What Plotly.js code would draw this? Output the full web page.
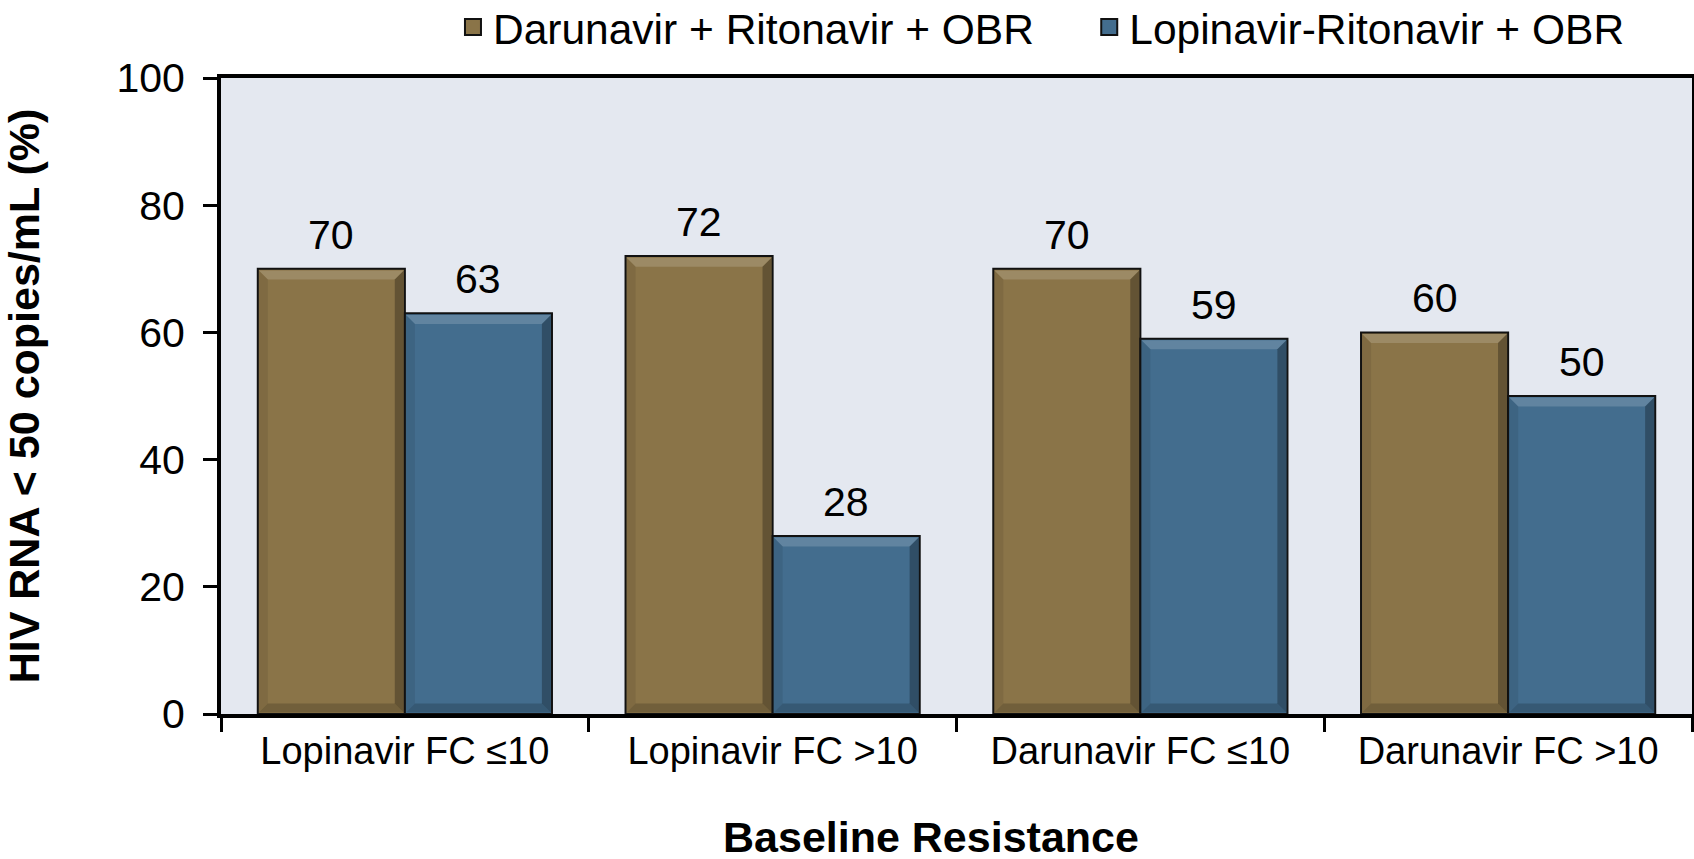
<!DOCTYPE html>
<html>
<head>
<meta charset="utf-8">
<script src="https://cdn.plot.ly/plotly-3.0.1.min.js"></script>
<style>html,body{margin:0;padding:0;background:#fff;}#chart{width:1694px;height:859px;}</style>
</head>
<body>
<div id="chart"></div>
<script>
// ---- data ----
const categories = ["Lopinavir FC \u226410", "Lopinavir FC >10", "Darunavir FC \u226410", "Darunavir FC >10"];
const seriesNames = ["Darunavir + Ritonavir + OBR", "Lopinavir-Ritonavir + OBR"];
const darunavirValues = [70, 72, 70, 60];
const lopinavirValues = [63, 28, 59, 50];
const yTickVals = [0, 20, 40, 60, 80, 100];

const colors = ["#8A7448", "#436D8E"];
const FONT = "Liberation Sans, Arial, sans-serif";
const BARGAP = 0.2;
const half = (1 - BARGAP) / 4;       // bar width in category units
const W = 1694, H = 859;
const M = { l: 221, r: 2, t: 78, b: 145 };
const plotW = W - M.l - M.r, plotH = H - M.t - M.b;
const YMAX = 100;

const seriesVals = [darunavirValues, lopinavirValues];

const traces = [];
seriesVals.forEach((vals, k) => {
  traces.push({
    type: "bar",
    name: seriesNames[k],
    x: categories,
    y: vals,
    marker: { color: colors[k], line: { color: "#111", width: 2 } },
    showlegend: false,
    hoverinfo: "skip"
  });
});
// legend-only entries (larger square symbols)
seriesVals.forEach((vals, k) => {
  traces.push({
    type: "scatter", mode: "markers",
    name: seriesNames[k],
    x: [null], y: [null],
    marker: { symbol: "square", size: 16, color: colors[k], line: { color: "#111", width: 2 } },
    legend: k === 0 ? "legend" : "legend2",
    hoverinfo: "skip"
  });
});

// value labels
const annotations = [];
seriesVals.forEach((vals, k) => {
  vals.forEach((v, i) => {
    annotations.push({
      x: i + (k === 0 ? -half : half), y: v, xref: "x", yref: "y",
      text: String(v), showarrow: false, yanchor: "bottom", yshift: 9,
      font: { family: FONT, size: 41, color: "#000" }
    });
  });
});
annotations.push({
  xref: "paper", yref: "paper", x: (931 - M.l) / plotW, y: -(837 - (H - M.b)) / plotH,
  xanchor: "center", yanchor: "middle", showarrow: false,
  text: "<b>Baseline Resistance</b>", font: { family: FONT, size: 43, color: "#000" }
});

// bevel decoration on each bar (derived from the data values)
const bevPx = 9;
const dx = bevPx / (plotW / categories.length);
const dy = bevPx / (plotH / YMAX);
const shapes = [];
seriesVals.forEach((vals, k) => {
  vals.forEach((v, i) => {
    const x0 = i + (k === 0 ? -2 * half : 0) + 0.003, x1 = x0 + 2 * half - 0.006;
    const y0 = 0.25, y1 = v - 0.25;
    const ix0 = x0 + dx, ix1 = x1 - dx, iy0 = y0 + dy, iy1 = y1 - dy;
    const poly = (pts, fill) => shapes.push({
      type: "path", xref: "x", yref: "y", layer: "above",
      path: "M" + pts.map(p => p[0] + "," + p[1]).join(" L") + " Z",
      fillcolor: fill, line: { width: 0 }
    });
    poly([[x0, y1], [x1, y1], [ix1, iy1], [ix0, iy1]], "rgba(255,255,255,0.16)");
    poly([[x1, y1], [x1, y0], [ix1, iy0], [ix1, iy1]], "rgba(0,0,0,0.28)");
    poly([[x0, y0], [x1, y0], [ix1, iy0], [ix0, iy0]], "rgba(0,0,0,0.18)");
    poly([[x0, y0], [x0, y1], [ix0, iy1], [ix0, iy0]], "rgba(0,0,0,0.08)");
  });
});

const legendFont = { family: FONT, size: 42.5, color: "#000" };
const layout = {
  width: W, height: H,
  margin: { l: M.l, r: M.r, t: M.t, b: M.b, autoexpand: false },
  paper_bgcolor: "#ffffff",
  plot_bgcolor: "#E4E8F0",
  barmode: "group",
  bargap: BARGAP,
  bargroupgap: 0,
  showlegend: true,
  legend: {
    orientation: "h",
    xref: "container", yref: "container", x: 0.2674, y: 0.968, xanchor: "left", yanchor: "middle",
    font: legendFont, bgcolor: "rgba(0,0,0,0)", borderwidth: 0
  },
  legend2: {
    orientation: "h",
    xref: "container", yref: "container", x: 0.643, y: 0.968, xanchor: "left", yanchor: "middle",
    font: legendFont, bgcolor: "rgba(0,0,0,0)", borderwidth: 0
  },
  xaxis: {
    type: "category",
    range: [-0.5, categories.length - 0.5],
    tickson: "boundaries",
    tickangle: 0,
    ticks: "outside", ticklen: 14, tickwidth: 3, tickcolor: "#000",
    showline: true, linecolor: "#000", linewidth: 4, mirror: true,
    showgrid: false, zeroline: false,
    tickfont: { family: FONT, size: 38, color: "#000" },
    automargin: false
  },
  yaxis: {
    range: [0, YMAX],
    tickvals: yTickVals,
    ticks: "outside", ticklen: 14, tickwidth: 3, tickcolor: "#000",
    ticklabelstandoff: 10,
    showline: true, linecolor: "#000", linewidth: 4, mirror: true,
    showgrid: false, zeroline: false,
    tickfont: { family: FONT, size: 41, color: "#000" },
    title: { text: "<b>HIV RNA < 50 copies/mL (%)</b>", font: { family: FONT, size: 43, color: "#000" }, standoff: 102 },
    automargin: false
  },
  annotations: annotations,
  shapes: shapes
};

Plotly.newPlot("chart", traces, layout, { displayModeBar: false, staticPlot: true });
</script>
</body>
</html>
